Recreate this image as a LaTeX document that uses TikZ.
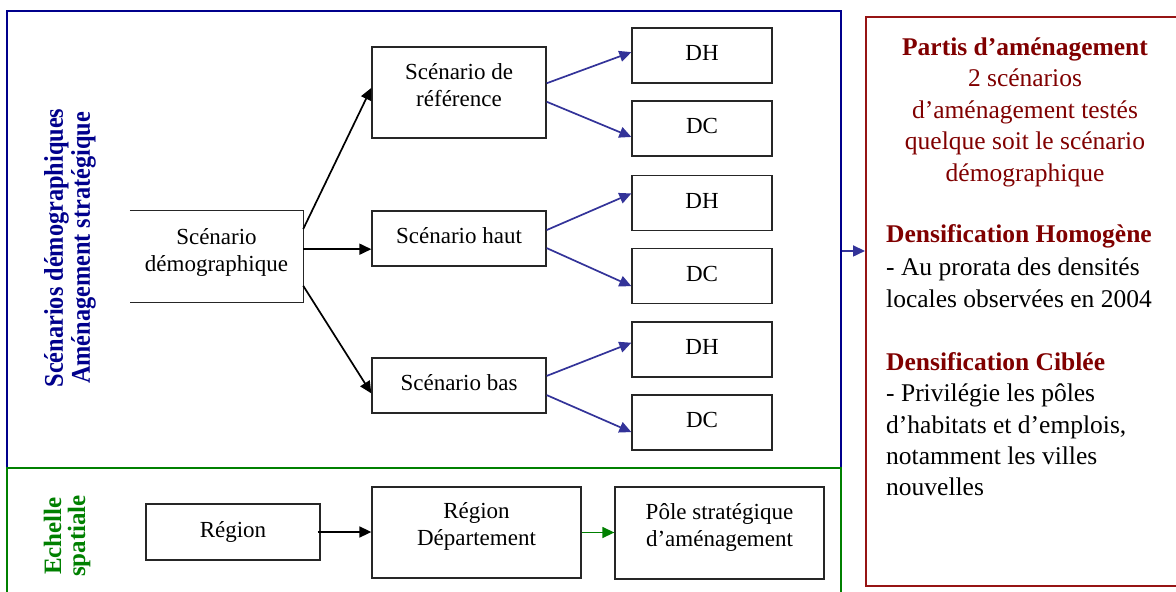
\documentclass[tikz,border=0pt]{standalone}
\usepackage{fontspec}
\setmainfont{Liberation Serif}
\newfontfamily\condserif[FakeStretch=0.9]{Liberation Serif}
\usetikzlibrary{arrows.meta,calc}
\definecolor{navyc}{RGB}{0,0,140}
\definecolor{greenc}{RGB}{0,128,0}
\definecolor{redframe}{RGB}{150,20,20}
\definecolor{redtext}{RGB}{128,0,0}
\definecolor{arrowblue}{RGB}{51,51,153}
\begin{document}
\begin{tikzpicture}[x=1pt,y=-1pt,
  box/.style={draw=black!85, line width=1.3pt, inner sep=0pt, font=\fontsize{23}{27}\selectfont},
  one/.style={box, text height=16pt, text depth=6pt},
  txt/.style={inner sep=0pt, align=center, font=\fontsize{23}{27}\selectfont},
  blk/.style={-{Triangle[length=12pt,width=11pt]}, line width=1.7pt},
  blu/.style={-{Triangle[length=12pt,width=11pt]}, line width=1.7pt, draw=arrowblue},
  grn/.style={-{Triangle[length=12pt,width=11pt]}, line width=1.4pt, draw=greenc},
  frame/.style={line width=2pt, inner sep=0pt},
  side/.style={inner sep=0pt, font=\fontsize{25.5}{31.5}\selectfont}
]
\useasboundingbox (0,0) rectangle (1176,592);
\fill[white] (0,0) rectangle (1176,592);

% frames
\node[frame, draw=navyc, minimum width=834, minimum height=457] (scen) at (424,239.5) {};
\node[frame, draw=greenc, minimum width=834, minimum height=150] (ech) at (424,543) {};
\node[frame, draw=redframe, minimum width=340, minimum height=569] (partis) at (1036,301.5) {};

% rotated labels
\node[rotate=90, align=center, inner sep=0pt, text=navyc,
      font=\condserif\bfseries\fontsize{27}{27}\selectfont] (lab1) at (70,248)
      {Scénarios démographiques\\Aménagement stratégique};
\node[rotate=90, align=center, inner sep=0pt, text=greenc,
      font=\bfseries\fontsize{25}{24}\selectfont] (lab2) at (67,536)
      {Echelle\\spatiale};

% scenario boxes
\node[minimum width=173, minimum height=91, inner sep=0pt] (sd) at (216.5,256.5) {};
\draw[line width=1.3pt, draw=black!85] (sd.north west) -- (sd.north east) -- (sd.south east) -- (sd.south west);
\node[txt] (sdt) at ([yshift=4.5pt]sd.center) {Scénario\\démographique};

\node[box, minimum width=174, minimum height=91] (ref) at (459,92.5) {};
\node[txt] (reft) at ([yshift=7pt]ref.center) {Scénario de\\référence};
\node[one, minimum width=174, minimum height=55] (haut) at (459,238.5) {Scénario haut};
\node[one, minimum width=174, minimum height=55] (bas) at (459,385.5) {Scénario bas};

\node[one, minimum width=140, minimum height=55] (dh1) at (702,55.5) {DH};
\node[one, minimum width=140, minimum height=55] (dc1) at (702,128.5) {DC};
\node[one, minimum width=140, minimum height=55] (dh2) at (702,203) {DH};
\node[one, minimum width=140, minimum height=55] (dc2) at (702,276) {DC};
\node[one, minimum width=140, minimum height=55] (dh3) at (702,349.5) {DH};
\node[one, minimum width=140, minimum height=55] (dc3) at (702,422.5) {DC};

% spatial boxes
\node[one, minimum width=174, minimum height=56] (reg) at (233,532) {Région};
\node[box, minimum width=209, minimum height=91] (regdep) at (476.5,532.5) {};
\node[txt] (regdept) at ([yshift=6pt]regdep.center) {Région\\Département};
\node[box, minimum width=209, minimum height=92] (pole) at (719.5,533) {};
\node[txt] (polet) at ([yshift=6pt]pole.center) {Pôle stratégique\\d’aménagement};

% black arrows
\draw[blk] ($(sd.north east)!0.2!(sd.south east)$) -- ($(ref.north west)!0.45!(ref.south west)$);
\coordinate (s2) at ($(sd.north east)!0.42!(sd.south east)$);
\draw[blk] (s2) -- (s2 -| haut.west);
\draw[blk] ($(sd.north east)!0.82!(sd.south east)$) -- ($(bas.north west)!0.64!(bas.south west)$);

% blue arrows
\draw[blu] ($(ref.north east)!0.4!(ref.south east)$) -- ($(dh1.north west)!0.44!(dh1.south west)$);
\draw[blu] ($(ref.north east)!0.6!(ref.south east)$) -- ($(dc1.north west)!0.65!(dc1.south west)$);
\draw[blu] ($(haut.north east)!0.35!(haut.south east)$) -- ($(dh2.north west)!0.33!(dh2.south west)$);
\draw[blu] ($(haut.north east)!0.67!(haut.south east)$) -- ($(dc2.north west)!0.68!(dc2.south west)$);
\draw[blu] ($(bas.north east)!0.33!(bas.south east)$) -- ($(dh3.north west)!0.38!(dh3.south west)$);
\draw[blu] ($(bas.north east)!0.67!(bas.south east)$) -- ($(dc3.north west)!0.67!(dc3.south west)$);

% bottom arrows
\draw[blk] ([xshift=-3pt]reg.east) -- (reg.east -| regdep.west);
\draw[grn] (regdep.east) -- (regdep.east -| pole.west);

% frame to side panel
\coordinate (fa) at ($(scen.north east)!0.525!(scen.south east)$);
\draw[blu] (fa) -- (fa -| partis.west);

% side panel text
\node[side, anchor=north, align=center, text=redtext] (t1) at (1025,37.4)
  {\textbf{Partis d’aménagement}\\2 scénarios\\d’aménagement testés\\quelque soit le scénario\\démographique};
\node[side, anchor=north west, align=left, font=\fontsize{25.5}{32.5}\selectfont] (t2) at (886,224.4)
  {\textcolor{redtext}{\textbf{Densification Homogène}}\\- Au prorata des densités\\locales observées en 2004};
\node[side, anchor=north west, align=left, font=\fontsize{25.5}{31.3}\selectfont] (t3) at (886,352.4)
  {\textcolor{redtext}{\textbf{Densification Ciblée}}\\- Privilégie les pôles\\d’habitats et d’emplois,\\notamment les villes\\nouvelles};
\end{tikzpicture}
\end{document}
